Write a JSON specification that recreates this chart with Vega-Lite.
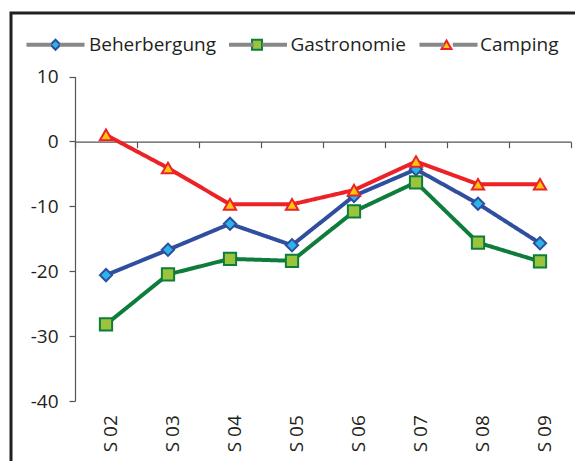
{
  "$schema": "https://vega.github.io/schema/vega-lite/v6.json",
  "width": 570,
  "height": 460,
  "autosize": {"type": "none"},
  "padding": {"left": 11, "top": 13, "right": -6, "bottom": -12},
  "background": "white",
  "config": {
    "view": {"stroke": "#231f20", "strokeWidth": 3},
    "font": "Open Sans"
  },
  "data": {
    "values": [
      {"series": "Beherbergung", "cat": "S 02", "value": -20.6},
      {"series": "Beherbergung", "cat": "S 03", "value": -16.7},
      {"series": "Beherbergung", "cat": "S 04", "value": -12.7},
      {"series": "Beherbergung", "cat": "S 05", "value": -16.0},
      {"series": "Beherbergung", "cat": "S 06", "value": -8.4},
      {"series": "Beherbergung", "cat": "S 07", "value": -4.3},
      {"series": "Beherbergung", "cat": "S 08", "value": -9.6},
      {"series": "Beherbergung", "cat": "S 09", "value": -15.7},
      {"series": "Gastronomie", "cat": "S 02", "value": -28.2},
      {"series": "Gastronomie", "cat": "S 03", "value": -20.5},
      {"series": "Gastronomie", "cat": "S 04", "value": -18.1},
      {"series": "Gastronomie", "cat": "S 05", "value": -18.4},
      {"series": "Gastronomie", "cat": "S 06", "value": -10.8},
      {"series": "Gastronomie", "cat": "S 07", "value": -6.3},
      {"series": "Gastronomie", "cat": "S 08", "value": -15.6},
      {"series": "Gastronomie", "cat": "S 09", "value": -18.5},
      {"series": "Camping", "cat": "S 02", "value": 1.0},
      {"series": "Camping", "cat": "S 03", "value": -4.1},
      {"series": "Camping", "cat": "S 04", "value": -9.7},
      {"series": "Camping", "cat": "S 05", "value": -9.7},
      {"series": "Camping", "cat": "S 06", "value": -7.5},
      {"series": "Camping", "cat": "S 07", "value": -3.1},
      {"series": "Camping", "cat": "S 08", "value": -6.6},
      {"series": "Camping", "cat": "S 09", "value": -6.6}
    ]
  },
  "encoding": {
    "x": {
      "field": "cat",
      "type": "nominal",
      "scale": {
        "type": "band",
        "domain": ["S 02", "S 03", "S 04", "S 05", "S 06", "S 07", "S 08", "S 09"],
        "range": [64, 560],
        "paddingInner": 0,
        "paddingOuter": 0
      },
      "axis": {
        "orient": "bottom",
        "offset": -331.3,
        "title": null,
        "grid": false,
        "labelAngle": -90,
        "labelPadding": 267,
        "labelOffset": 4,
        "labelFont": "Open Sans",
        "labelFontSize": 19,
        "labelColor": "#231f20",
        "tickBand": "extent",
        "tickSize": 6,
        "tickColor": "#555555",
        "tickWidth": 1.2,
        "domainColor": "#555555",
        "domainWidth": 1.2
      }
    },
    "y": {
      "field": "value",
      "type": "quantitative",
      "scale": {"domain": [-40, 10], "range": [388, 63.5], "nice": false, "zero": false},
      "axis": {
        "orient": "left",
        "offset": -64,
        "title": null,
        "grid": false,
        "values": [-40, -30, -20, -10, 0, 10],
        "labelExpr": "'' + datum.value",
        "labelFont": "Open Sans",
        "labelFontSize": 19,
        "labelColor": "#231f20",
        "labelPadding": 11,
        "tickSize": 6,
        "tickColor": "#555555",
        "tickWidth": 1.2,
        "domainColor": "#555555",
        "domainWidth": 1.2
      }
    }
  },
  "layer": [
    {
      "mark": {"type": "line", "strokeWidth": 4},
      "encoding": {
        "stroke": {
          "field": "series",
          "type": "nominal",
          "scale": {
            "domain": ["Beherbergung", "Gastronomie", "Camping"],
            "range": ["#2f4e9e", "#0e7d3c", "#ec2227"]
          },
          "legend": {
            "orient": "none",
            "legendX": 35,
            "legendY": 22,
            "direction": "horizontal",
            "columns": 3,
            "title": null,
            "padding": 0,
            "symbolSize": 100,
            "symbolStrokeWidth": 2,
            "labelOffset": 24,
            "columnPadding": 30.5,
            "labelFont": "Open Sans",
            "labelFontSize": 19,
            "labelColor": "#231f20"
          }
        },
        "strokeDash": {
          "field": "series",
          "type": "nominal",
          "sort": ["Beherbergung", "Gastronomie", "Camping"],
          "scale": {"range": [[1, 0], [1, 0], [1, 0]]},
          "legend": {
            "orient": "none",
            "legendX": 35,
            "legendY": 22,
            "direction": "horizontal",
            "columns": 3,
            "title": null,
            "padding": 0,
            "symbolSize": 100,
            "symbolStrokeWidth": 2,
            "symbolType": "M-5.6,-0.2H-1.05V0.2H-5.6Z M1.05,-0.2H5.6V0.2H1.05Z",
            "labelOffset": 24,
            "columnPadding": 8.5,
            "labelFont": "Open Sans",
            "labelFontSize": 19,
            "labelColor": "transparent"
          }
        }
      }
    },
    {
      "mark": {"type": "point", "filled": true, "strokeWidth": 2, "opacity": 1, "size": 150},
      "encoding": {
        "stroke": {"field": "series", "type": "nominal", "legend": null},
        "fill": {
          "field": "series",
          "type": "nominal",
          "scale": {
            "domain": ["Beherbergung", "Gastronomie", "Camping"],
            "range": ["#2bb4e8", "#9ac43c", "#ffc40f"]
          },
          "legend": null
        },
        "shape": {
          "field": "series",
          "type": "nominal",
          "scale": {
            "domain": ["Beherbergung", "Gastronomie", "Camping"],
            "range": ["diamond", "square", "triangle-up"]
          },
          "legend": null
        }
      }
    }
  ]
}
